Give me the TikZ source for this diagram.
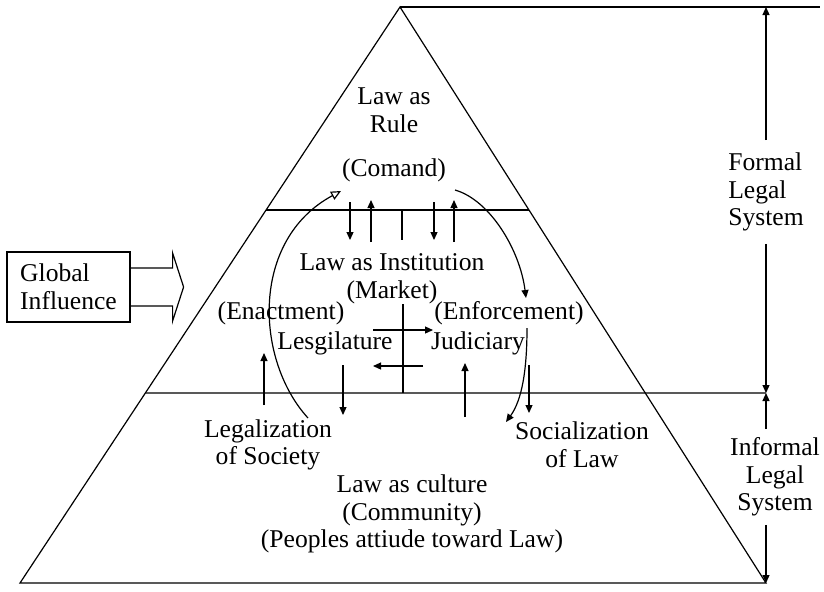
\documentclass[tikz,border=0pt]{standalone}
\usepackage{fontspec}
\setmainfont{Liberation Serif}
\usetikzlibrary{arrows.meta,positioning,calc}

\begin{document}
\begin{tikzpicture}[x=0.5pt,y=-0.5pt,line width=0.6pt,
    >={Triangle[length=4pt,width=3.5pt]},
    font=\fontsize{12.8}{13.8}\selectfont,
    every node/.style={align=center,inner sep=0pt},
    open tip/.style={-{Triangle[open,length=5pt,width=4.5pt]}},
    side label/.style={inner ysep=6pt}]
    \useasboundingbox (0,0) rectangle (824,591);

    % pyramid
    \coordinate (apex)   at (400,7);
    \coordinate (base_l) at (20,583);
    \coordinate (base_r) at (766,583);
    \coordinate (top_r)  at (820,7);
    \coordinate (mid_r)  at (766,393);
    \draw (apex) -- (base_l) -- (base_r) -- cycle;
    \draw (apex) -- (top_r);
    \draw ($(apex)!0.3524!(base_l)$) -- ($(apex)!0.3524!(base_r)$);
    \draw ($(apex)!0.6701!(base_l)$) -- (mid_r);

    % labels
    \node (rule)       at (394,110)              {Law as\\Rule};
    \node (command)    [on grid,below=30pt of rule] {(Comand)};
    \node (inst)       at (392,279)              {Law as Institution\\(Market)};
    \node (enact)      at (281,313)              {(Enactment)};
    \node (enforce)    [on grid,right=114pt of enact] {(Enforcement)};
    \node (legis)      at (335,343)              {Lesgilature};
    \node (judic)      [on grid,right=71.5pt of legis] {Judiciary};
    \node (legal_soc)  at (268,445)              {Legalization\\of Society};
    \node (social_law) at (582,445)              {Socialization\\of Law};
    \node (culture)    at (412,514)              {Law as culture\\(Community)\\(Peoples attiude toward Law)};

    % global influence
    \node[draw,minimum width=61.5pt,minimum height=35pt,align=left] (global) at (68.5,287) {Global\\Influence};
    \draw (global.east) ++(0,-19) -- ++(42,0) -- ++(0,-15) -- ++(11,34)
          -- ++(-11,34) -- ++(0,-15) -- ++(-42,0);

    % formal / informal
    \node[side label,align=left] (formal)   at (766,192) {Formal\\Legal\\System};
    \node[inner ysep=4pt]        (informal) at (775,477) {Informal\\Legal\\System};
    \draw[->] (formal.north) -- (formal.north |- apex);
    \draw[->] (formal.south) -- (mid_r);
    \draw[->] (mid_r |- informal.north) -- (mid_r);
    \draw[->] (mid_r |- informal.south) -- (base_r);

    % arrows between rule and institution
    \path (350,202) coordinate (d1_a) (350,240) coordinate (d1_b)
          (371,242) coordinate (u1_a) (371,200) coordinate (u1_b)
          (402,210) coordinate (p1_a) (402,240) coordinate (p1_b)
          (434,202) coordinate (d2_a) (434,240) coordinate (d2_b)
          (454,242) coordinate (u2_a) (454,200) coordinate (u2_b);
    \draw[->] (d1_a) -- (d1_b);
    \draw[->] (u1_a) -- (u1_b);
    \draw     (p1_a) -- (p1_b);
    \draw[->] (d2_a) -- (d2_b);
    \draw[->] (u2_a) -- (u2_b);

    % cross between lesgilature and judiciary
    \path (403,304) coordinate (c_top) (403,393) coordinate (c_bot)
          (373,330) coordinate (r_a) (433,330) coordinate (r_b)
          (423,366) coordinate (l_a) (373,366) coordinate (l_b);
    \draw     (c_top) -- (c_bot);
    \draw[->] (r_a) -- (r_b);
    \draw[->] (l_a) -- (l_b);

    % arrows between institution and culture
    \path (264,405) coordinate (u3_a) (264,353) coordinate (u3_b)
          (343,365) coordinate (d3_a) (343,415) coordinate (d3_b)
          (465,417) coordinate (u4_a) (465,363) coordinate (u4_b)
          (529,365) coordinate (d4_a) (529,413) coordinate (d4_b);
    \draw[->] (u3_a) -- (u3_b);
    \draw[->] (d3_a) -- (d3_b);
    \draw[->] (u4_a) -- (u4_b);
    \draw[->] (d4_a) -- (d4_b);

    % cycle curves
    \path (308,418) coordinate (lc_a) (341,191) coordinate (lc_b)
          (455,190) coordinate (rc_a) (526,298) coordinate (rc_b)
          (527,328) coordinate (sc_a) (506,422) coordinate (sc_b);
    \draw[open tip] (lc_a) .. controls (255,360) and (250,240) .. (lc_b);
    \draw[->] (rc_a) .. controls (490,200) and (520,250) .. (rc_b);
    \draw[->] (sc_a) .. controls (527,370) and (522,400) .. (sc_b);
\end{tikzpicture}
\end{document}
